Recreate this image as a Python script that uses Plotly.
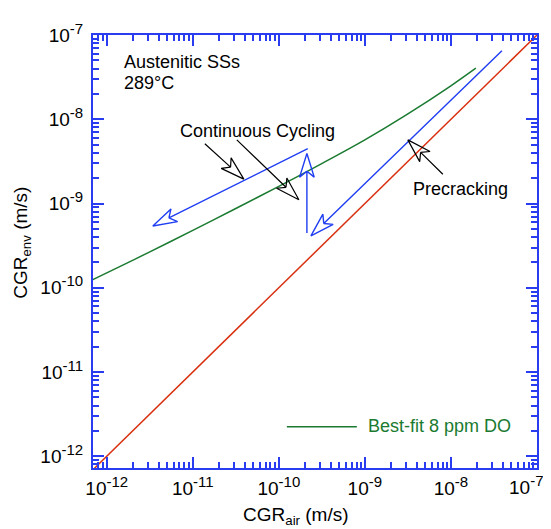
import numpy as np
import plotly.graph_objects as go

# ---------------- data (m/s) ----------------
fit_air = [6.9e-13, 1e-12, 3e-12, 1e-11, 3e-11, 1e-10, 3e-10, 1e-9, 3e-9, 1e-8, 1.95e-8]
fit_env = [1.25e-10, 1.5e-10, 2.6e-10, 4.8e-10, 8.5e-10, 1.6e-9, 2.9e-9, 5.7e-9, 1.12e-8, 2.5e-8, 4.05e-8]

parity_air = [7.2e-13, 1e-7]
parity_env = [7.2e-13, 1e-7]

# blue test paths (last point = arrow tip)
cyc_slope_air = [2.17e-10, 3.43e-12]
cyc_slope_env = [4.48e-9, 5.41e-10]
cyc_vert_air = [2.12e-10, 2.12e-10]
cyc_vert_env = [4.48e-10, 3.92e-9]
precrack_air = [3.92e-8, 2.36e-10]
precrack_env = [6.52e-8, 4.13e-10]

# black pointer arrows (last point = tip)
ptr1_air = [1.38e-11, 3.92e-11]
ptr1_env = [5.12e-9, 1.95e-9]
ptr2_air = [3.25e-11, 1.71e-10]
ptr2_env = [5.7e-9, 1.11e-9]
ptr3_air = [8.07e-9, 3.16e-9]
ptr3_env = [2.23e-9, 5.7e-9]

legend_air = [1.24e-10, 8.07e-10]
legend_env = [2.23e-12, 2.23e-12]

major_exps = [-12, -11, -10, -9, -8, -7]
tick_vals = [10.0 ** e for e in major_exps]
y_tick_text = ["10<sup><span style='font-size:15px'>%d</span></sup>" % e for e in major_exps]
x_tick_text = list(y_tick_text)
x_last_label = x_tick_text[-1]
x_tick_text[-1] = ""          # drawn separately so it stays inside the page
minor_vals = [k * 10.0 ** e for e in range(-13, -7) for k in range(2, 10)]

BLUE = "#1f3ef2"
AXBLUE = "#2a3cf0"
GREEN = "#1a7a30"
RED = "#d8300f"
FONT = "Liberation Sans, Arial, sans-serif"

HEAD_LEN = 0.28     # decades
HEAD_HALF = 0.085
HEAD_NOTCH = 0.21


def arrow_path(xs, ys):
    lx = list(np.log10(xs))
    ly = list(np.log10(ys))
    tip = np.array([lx[-1], ly[-1]])
    prev = np.array([lx[-2], ly[-2]])
    d = tip - prev
    d = d / np.linalg.norm(d)
    n = np.array([-d[1], d[0]])
    notch = tip - HEAD_NOTCH * d
    w1 = tip - HEAD_LEN * d + HEAD_HALF * n
    w2 = tip - HEAD_LEN * d - HEAD_HALF * n
    pts = list(zip(lx[:-1], ly[:-1])) + [tuple(notch), tuple(w1), tuple(tip), tuple(w2), tuple(notch)]
    px = [10 ** p[0] for p in pts]
    py = [10 ** p[1] for p in pts]
    return px, py


fig = go.Figure()

fig.add_trace(go.Scatter(x=parity_air, y=parity_env, mode="lines",
                         line=dict(color=RED, width=1.5), showlegend=False))
fig.add_trace(go.Scatter(x=fit_air, y=fit_env, mode="lines", line_shape="spline",
                         line=dict(color=GREEN, width=1.5), showlegend=False))

for xs, ys in [(cyc_slope_air, cyc_slope_env), (cyc_vert_air, cyc_vert_env),
               (precrack_air, precrack_env)]:
    ax_, ay_ = arrow_path(xs, ys)
    fig.add_trace(go.Scatter(x=ax_, y=ay_, mode="lines",
                             line=dict(color=BLUE, width=1.4), showlegend=False))

for xs, ys in [(ptr1_air, ptr1_env), (ptr2_air, ptr2_env), (ptr3_air, ptr3_env)]:
    ax_, ay_ = arrow_path(xs, ys)
    fig.add_trace(go.Scatter(x=ax_, y=ay_, mode="lines",
                             line=dict(color="black", width=1.2), showlegend=False))

fig.add_trace(go.Scatter(x=legend_air, y=legend_env, mode="lines",
                         line=dict(color=GREEN, width=1.5), showlegend=False))

axis_common = dict(
    type="log", showline=True, linecolor=AXBLUE, linewidth=2, mirror="ticks",
    ticks="inside", ticklen=11, tickwidth=1.6, tickcolor=AXBLUE,
    tickvals=tick_vals,
    tickfont=dict(family=FONT, size=19, color="black"),
    showgrid=False, zeroline=False,
    minor=dict(ticks="inside", ticklen=6, tickwidth=1.6, tickcolor=AXBLUE,
               tickvals=minor_vals, showgrid=False),
)

fig.update_xaxes(range=[-12.16, -6.999], ticktext=x_tick_text, ticklabelstandoff=2, **axis_common)
fig.update_yaxes(range=[-12.14, -6.999], ticktext=y_tick_text, ticklabelstandoff=4, **axis_common)

ann_font = dict(family=FONT, size=18, color="black")
annotations = [
    dict(x=-11.826, y=-7.314, text="Austenitic SSs", xanchor="left", yanchor="middle"),
    dict(x=-11.826, y=-7.570, text="289°C", xanchor="left", yanchor="middle"),
    dict(x=-10.25, y=-8.14, text="Continuous Cycling", xanchor="center", yanchor="middle"),
    dict(x=-7.884, y=-8.826, text="Precracking", xanchor="center", yanchor="middle"),
]
for a in annotations:
    fig.add_annotation(xref="x", yref="y", showarrow=False, font=ann_font, **a)

fig.add_annotation(xref="x", yref="y", x=-8.988, y=-11.64, text="Best-fit 8 ppm DO",
                   xanchor="left", yanchor="middle", showarrow=False,
                   font=dict(family=FONT, size=18, color=GREEN))

# last x tick label, kept inside the page edge
fig.add_annotation(xref="paper", yref="paper", x=1.0, xshift=-11, y=-0.008, text=x_last_label,
                   xanchor="center", yanchor="top", showarrow=False, borderpad=0,
                   font=dict(family=FONT, size=19, color="black"))

fig.add_annotation(xref="paper", yref="paper", x=0.457, y=-0.078, text="CGR<sub>air</sub> (m/s)",
                   xanchor="center", yanchor="top", showarrow=False,
                   font=dict(family=FONT, size=19, color="black"))
fig.add_annotation(xref="paper", yref="paper", x=-0.16, y=0.52, text="CGR<sub>env</sub> (m/s)",
                   textangle=-90, xanchor="center", yanchor="middle", showarrow=False,
                   font=dict(family=FONT, size=19, color="black"))

# page body has an 8 px default margin; size the figure to fit the window
fig.update_layout(
    width=543, height=521,
    margin=dict(l=85, r=14, t=18, b=61),
    plot_bgcolor="white", paper_bgcolor="white",
    showlegend=False,
)

fig.write_html("out.html")
